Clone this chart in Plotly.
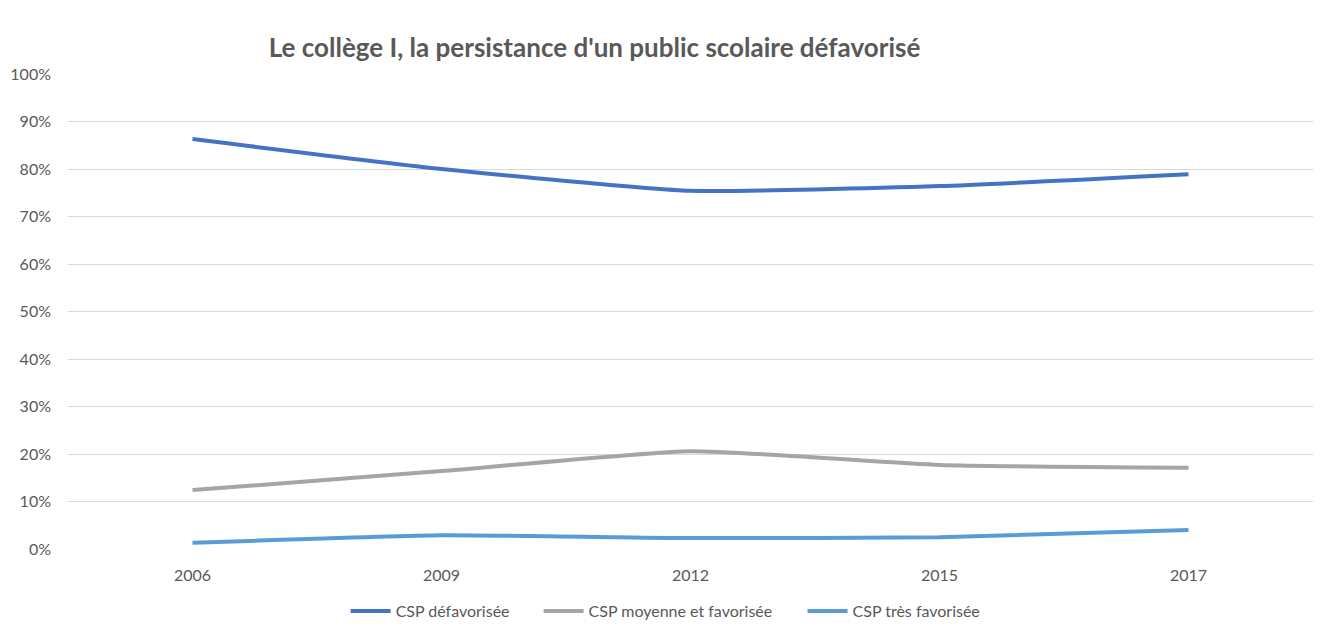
import plotly.graph_objects as go

years = ["2006", "2009", "2012", "2015", "2017"]
defavorisee = [0.863, 0.800, 0.754, 0.764, 0.789]
moyenne = [0.124, 0.164, 0.206, 0.177, 0.171]
tres_favorisee = [0.013, 0.029, 0.023, 0.025, 0.040]

series = [
    ("CSP défavorisée", defavorisee, "#4472C4", "legend", 0.223),
    ("CSP moyenne et favorisée", moyenne, "#A5A5A5", "legend2", 0.378),
    ("CSP très favorisée", tres_favorisee, "#5B9BD5", "legend3", 0.590),
]

fig = go.Figure()
font = "Lato, 'Open Sans', sans-serif"
legends = {}
for name, vals, col, lg, lx in series:
    fig.add_trace(go.Scatter(
        x=years, y=vals, name=name, mode="lines", legend=lg,
        line=dict(color=col, width=4, shape="spline", smoothing=0.5),
    ))
    legends[lg] = dict(orientation="h", x=lx, xanchor="left", y=-0.1305, yanchor="middle",
                       font=dict(size=16, color="#595959", family=font), itemwidth=40,
                       bgcolor="rgba(0,0,0,0)")

fig.update_layout(
    width=1330, height=638,
    paper_bgcolor="white", plot_bgcolor="white",
    margin=dict(l=60, r=25, t=66, b=97, autoexpand=False),
    font=dict(family=font, color="#595959", size=16),
    title=dict(text="<b>Le collège I, la persistance d'un public scolaire défavorisé</b>",
               x=0.441, xanchor="center", y=0.938, yanchor="middle",
               font=dict(size=26, color="#595959", family=font)),
    showlegend=True,
    **legends,
)
fig.update_xaxes(type="category", range=[-0.5, 4.5], showgrid=False, showline=False,
                 ticks="", tickfont=dict(size=16, color="#595959"), ticklabelstandoff=15)
fig.update_yaxes(range=[0, 1], dtick=0.1, tickformat=".0%", showgrid=True,
                 gridcolor="#D9D9D9", gridwidth=1, zeroline=False, showline=False,
                 tickfont=dict(size=16, color="#595959"), ticklabelstandoff=16)

fig.write_html("out.html")
